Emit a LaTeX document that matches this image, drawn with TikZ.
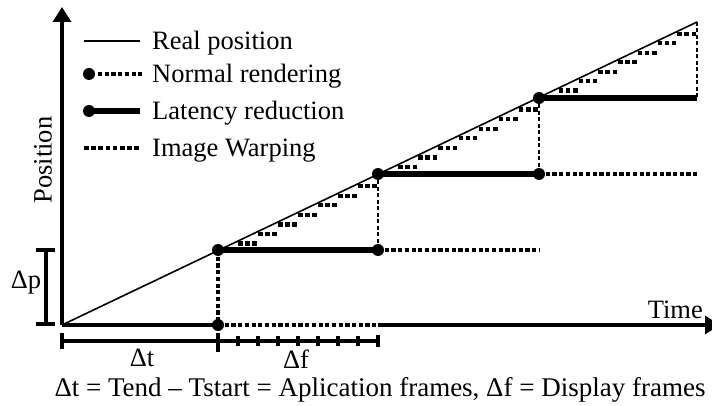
\documentclass[tikz,border=0pt]{standalone}
\usepackage{fontspec}
\setmainfont{Liberation Serif}
\usetikzlibrary{arrows.meta}

\begin{document}
\begin{tikzpicture}[x=1pt,y=-1pt,
  axis/.style={line width=3.4pt},
  realline/.style={line width=1.6pt},
  latency/.style={line width=5.2pt},
  normal/.style={line width=4.6pt, dash pattern=on 4.2pt off 2.5pt},
  warp/.style={line width=4.2pt, dash pattern=on 4.5pt off 2.7pt},
  framedash/.style={line width=2pt, dash pattern=on 4pt off 2.5pt},
  appdash/.style={line width=3.2pt, dash pattern=on 4.2pt off 2.5pt},
  tick/.style={line width=3.3pt},
  dot/.style={circle, fill=black, inner sep=0pt, minimum size=12pt},
  lbl/.style={font=\fontsize{26.5}{30}\selectfont, inner sep=0pt},
  arrowtip/.style={-{Triangle[length=15pt,width=18pt]}}
]
\useasboundingbox (0,0) rectangle (712,406);
\clip (0,0) rectangle (712,406);

% key points of the motion
\coordinate (O)  at (62,325);
\coordinate (P1) at (218,250);
\coordinate (P2) at (378,174);
\coordinate (P3) at (539,98);
\coordinate (P4) at (697,22);
\coordinate (H1) at (378,250);
\coordinate (H2) at (539,174);
\coordinate (H3) at (697,98);
\coordinate (N1) at (539,250);
\coordinate (N2) at (697,174);
\coordinate (A1) at (218,325);
\coordinate (A2) at (378,325);
\coordinate (Yend) at (62,7);
\coordinate (Xend) at (720,325);

% axes
\draw[axis, arrowtip] (O) -- (Yend);
\draw[axis] (O) -- (A1);
\draw[appdash] (A1) -- (A2);
\draw[axis, arrowtip] (A2) -- (Xend);

% real position
\draw[realline] (O) -- (P4);

% frame boundaries
\draw[appdash] (P1) -- (A1);
\draw[framedash] (P2) -- (H1);
\draw[framedash] (P3) -- (H2);
\draw[framedash] (P4) -- (H3);

% latency reduction
\draw[latency] (P1) -- (H1);
\draw[latency] (P2) -- (H2);
\draw[latency] (P3) -- (H3);

% normal rendering
\draw[normal] (H1) -- (N1);
\draw[normal] (H2) -- (N2);

% image warping: one step per display frame
\foreach \xa/\xb in {218/378, 378/539, 539/697} {
  \foreach \k in {1,...,7} {
    \pgfmathsetmacro\xs{\xa+\k*(\xb-\xa)/8}
    \pgfmathsetmacro\ys{325-(\xs-62)*0.47717+2.5}
    \pgfmathsetmacro\xe{\xs+(\xb-\xa)/8}
    \draw[warp] (\xs,\ys) -- (\xe,\ys);
  }
}

% dots
\node[dot] (d1) at (P1) {};
\node[dot] (d2) at (H1) {};
\node[dot] (d3) at (P2) {};
\node[dot] (d4) at (H2) {};
\node[dot] (d5) at (P3) {};
\node[dot] (d0) at (A1) {};

% delta p bracket
\coordinate (Dp1) at (46,250);
\coordinate (Dp2) at (46,324);
\draw[tick] (Dp1) -- (Dp2);
\draw[tick] (36,250) -- (55,250);
\draw[tick] (36,324) -- (55,324);
\node[lbl, anchor=base] (dp) at (26,288) {Δp};

% delta t / delta f bracket
\coordinate (B0) at (62,341);
\coordinate (B1) at (378,341);
\draw[tick] (B0) -- (B1);
\draw[line width=3.6pt] (62,333) -- (62,349);
\draw[line width=3.6pt] (218,333) -- (218,352);
\foreach \k in {1,...,7} {
  \draw[tick] ({218+\k*20},336) -- ({218+\k*20},346);
}
\draw[tick] (378,335) -- (378,347);
\node[lbl, anchor=base] (dt) at (142,366) {Δt};
\node[lbl, anchor=base] (df) at (296,368) {Δf};
\node[lbl, anchor=base, font=\fontsize{27}{30}\selectfont] (cap) at (380,396)
  {Δt = Tend – Tstart = Aplication frames, Δf = Display frames};

% axis labels
\node[lbl, anchor=base east] (time) at (703,318) {Time};
\node[lbl, rotate=90] (pos) at (43,160) {Position};

% legend
\coordinate (L1a) at (84,41);  \coordinate (L1b) at (140,41);
\coordinate (L2a) at (98,74);  \coordinate (L2b) at (142,74);
\coordinate (L3a) at (89,111); \coordinate (L3b) at (140,111);
\coordinate (L4a) at (84,148); \coordinate (L4b) at (140,148);
\draw[realline] (L1a) -- (L1b);
\draw[normal] (L2a) -- (L2b);
\node[dot] (ld2) at (89,74) {};
\draw[latency] (L3a) -- (L3b);
\node[dot] (ld3) at (L3a) {};
\draw[warp] (L4a) -- (L4b);
\node[lbl, anchor=base west] (t1) at (152,49.6) {Real position};
\node[lbl, anchor=base west] (t2) at (152,82.6) {Normal rendering};
\node[lbl, anchor=base west] (t3) at (152,119.6) {Latency reduction};
\node[lbl, anchor=base west] (t4) at (152,156.6) {Image Warping};
\end{tikzpicture}
\end{document}
